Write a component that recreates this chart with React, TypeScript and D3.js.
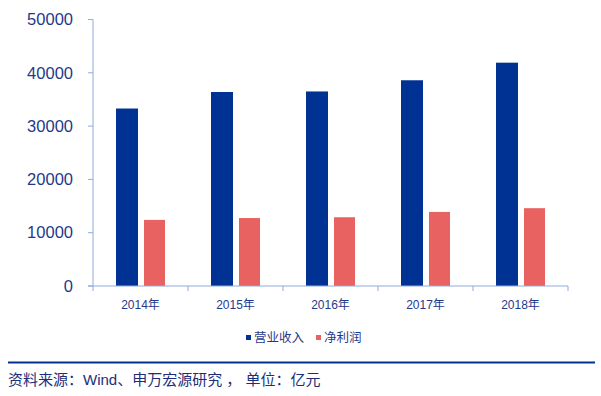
import { useEffect, useRef } from "react";
import * as d3 from "d3";

const years = ["2014年", "2015年", "2016年", "2017年", "2018年"];
const revenue = [33300, 36400, 36500, 38600, 41900];
const netProfit = [12400, 12750, 12900, 13900, 14600];
const yTicks = [0, 10000, 20000, 30000, 40000, 50000];
const seriesNames = ["营业收入", "净利润"];

const W = 601;
const H = 396;
const blue = "#003293";
const red = "#E86262";
const axisColor = "#8FAADC";
const textColor = "#1F3A8A";
const font = "Arial, 'Liberation Sans', 'Noto Sans CJK SC', sans-serif";

export default function App() {
  const ref = useRef<SVGSVGElement>(null);

  useEffect(() => {
    const svg = d3.select(ref.current);
    svg.selectAll("*").remove();

    const margin = { left: 93, right: 33, top: 19.5, bottom: 110 };
    const x = d3.scaleBand(years, [margin.left, W - margin.right]);
    const y = d3.scaleLinear([0, 50000], [H - margin.bottom, margin.top]);
    const bw = 22;

    // y axis
    const yAxis = svg.append("g").attr("transform", `translate(${margin.left},0)`);
    yAxis
      .append("line")
      .attr("x1", 0)
      .attr("x2", 0)
      .attr("y1", y(0))
      .attr("y2", y(50000))
      .attr("stroke", axisColor);
    yTicks.forEach((t) => {
      yAxis
        .append("line")
        .attr("x1", -5)
        .attr("x2", 0)
        .attr("y1", y(t))
        .attr("y2", y(t))
        .attr("stroke", axisColor);
      yAxis
        .append("text")
        .attr("x", -20)
        .attr("y", y(t))
        .attr("dy", "0.35em")
        .attr("text-anchor", "end")
        .attr("font-size", 16.5)
        .attr("font-family", font)
        .attr("fill", textColor)
        .text(t);
    });

    // bars
    years.forEach((yr, i) => {
      const x0 = x(yr)!;
      svg
        .append("rect")
        .attr("x", x0 + 23)
        .attr("y", y(revenue[i]))
        .attr("width", bw)
        .attr("height", y(0) - y(revenue[i]))
        .attr("fill", blue);
      svg
        .append("rect")
        .attr("x", x0 + 51)
        .attr("y", y(netProfit[i]))
        .attr("width", 21)
        .attr("height", y(0) - y(netProfit[i]))
        .attr("fill", red);
    });

    // x axis
    const xAxis = svg.append("g").attr("transform", `translate(0,${y(0)})`);
    xAxis
      .append("line")
      .attr("x1", margin.left - 5)
      .attr("x2", W - margin.right)
      .attr("stroke", axisColor);
    [...years.map((d) => x(d)!), W - margin.right].forEach((px) => {
      xAxis
        .append("line")
        .attr("x1", px)
        .attr("x2", px)
        .attr("y1", 0)
        .attr("y2", 5)
        .attr("stroke", axisColor);
    });
    years.forEach((yr) => {
      xAxis
        .append("text")
        .attr("x", x(yr)! + x.bandwidth() / 2)
        .attr("y", 19)
        .attr("dy", "0.35em")
        .attr("text-anchor", "middle")
        .attr("font-size", 12)
        .attr("font-family", font)
        .attr("fill", textColor)
        .text(yr);
    });

    // legend
    const legend = [
      { name: seriesNames[0], color: blue, x: 246 },
      { name: seriesNames[1], color: red, x: 316 },
    ];
    legend.forEach((l) => {
      svg
        .append("rect")
        .attr("x", l.x)
        .attr("y", 335)
        .attr("width", 5)
        .attr("height", 5)
        .attr("fill", l.color);
      svg
        .append("text")
        .attr("x", l.x + 8)
        .attr("y", 337.5)
        .attr("dy", "0.35em")
        .attr("font-size", 12.5)
        .attr("font-family", font)
        .attr("fill", textColor)
        .text(l.name);
    });

    // footer
    svg
      .append("line")
      .attr("x1", 8)
      .attr("x2", 595)
      .attr("y1", 362.5)
      .attr("y2", 362.5)
      .attr("stroke", blue)
      .attr("stroke-width", 2);
    svg
      .append("text")
      .attr("x", 8)
      .attr("y", 380)
      .attr("dy", "0.35em")
      .attr("font-size", 15)
      .attr("font-family", font)
      .attr("fill", "#1C2E7A")
      .text("资料来源：Wind、申万宏源研究 ， 单位：亿元");
  }, []);

  return (
    <svg
      ref={ref}
      width={W}
      height={H}
      style={{ position: "absolute", left: 0, top: 0, background: "#fff" }}
    />
  );
}
